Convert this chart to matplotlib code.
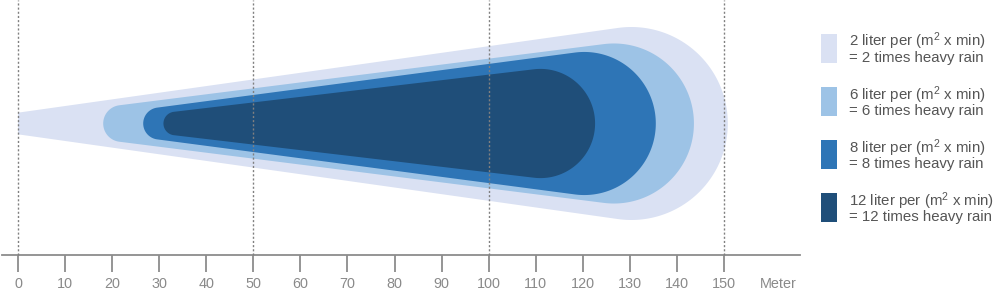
import numpy as np
import matplotlib
matplotlib.use("Agg")
import matplotlib.pyplot as plt
from matplotlib.patches import Polygon, Rectangle

plt.rcParams['font.family'] = ['Liberation Sans', 'DejaVu Sans']
plt.rcParams['mathtext.fontset'] = 'custom'
plt.rcParams['mathtext.rm'] = 'Liberation Sans'
plt.rcParams['mathtext.it'] = 'Liberation Sans'

# ---- data (meters) ----
line1 = ["2 liter per (m$^2$ x min)", "6 liter per (m$^2$ x min)",
         "8 liter per (m$^2$ x min)", "12 liter per (m$^2$ x min)"]
line2 = ["= 2 times heavy rain", "= 6 times heavy rain",
         "= 8 times heavy rain", "= 12 times heavy rain"]
colors = ["#dae1f3", "#9dc3e6", "#2e75b6", "#1f4e79"]
start_m = [0.0, 18.1, 26.6, 30.9]        # left end of the spray zone
reach_m = [150.8, 143.6, 135.5, 122.6]   # right end of the spray zone
near_halfwidth = [2.3, 3.9, 3.4, 2.5]    # half-width at the left end
far_halfwidth = [20.5, 17.0, 15.2, 11.6] # half-width at the round right end
flat_start = [True, False, False, False]
xticks = list(range(0, 151, 10))
grid_x = [0, 50, 100, 150]

# ---- figure in pixel-matched coordinates ----
W, H = 1000, 301
fig = plt.figure(figsize=(W / 100, H / 100), dpi=100)
ax = fig.add_axes([0, 0, 1, 1])
scale = 4.707          # px per meter
x0_px, yc_px = 18.0, 123.5
ax.set_xlim(-x0_px / scale, (W - x0_px) / scale)
ax.set_ylim((yc_px - H) / scale, yc_px / scale)
axis_y = (yc_px - 255) / scale


def hull(xs, r1, xe, r2, flat):
    c2 = xe - r2
    if flat:
        P = np.array([xs, r1])
        C = np.array([c2, 0.0])
        v = P - C
        D = np.hypot(*v)
        beta = np.arctan2(v[1], v[0])
        th = beta - np.arccos(r2 / D)
        a = np.linspace(-th, th, 200)
        pts = np.column_stack([c2 + r2 * np.cos(a), r2 * np.sin(a)])
        return np.vstack([[xs, -r1], pts, [xs, r1]])
    c1 = xs + r1
    phi = np.arcsin((r2 - r1) / (c2 - c1))
    a_r = np.linspace(-(np.pi / 2 + phi), np.pi / 2 + phi, 200)
    a_l = np.linspace(np.pi / 2 + phi, 3 * np.pi / 2 - phi, 100)
    right = np.column_stack([c2 + r2 * np.cos(a_r), r2 * np.sin(a_r)])
    left = np.column_stack([c1 + r1 * np.cos(a_l), r1 * np.sin(a_l)])
    return np.vstack([right, left])


for xs, xe, r1, r2, fl, col in zip(start_m, reach_m, near_halfwidth,
                                    far_halfwidth, flat_start, colors):
    ax.add_patch(Polygon(hull(xs, r1, xe, r2, fl), closed=True,
                         facecolor=col, edgecolor='none', zorder=2))

# dotted guide lines
ax.vlines(grid_x, axis_y, ax.get_ylim()[1], colors="#808080",
          linestyles=(0, (1.5, 1.5)), linewidth=1.0, zorder=3)

# x axis
for s in ['top', 'right', 'left']:
    ax.spines[s].set_visible(False)
ax.spines['bottom'].set_position(('data', axis_y))
ax.spines['bottom'].set_bounds((2 - x0_px) / scale, (800 - x0_px) / scale)
ax.spines['bottom'].set_color("#8c8c8c")
ax.spines['bottom'].set_linewidth(1.3)
ax.set_xticks(xticks)
ax.set_xticklabels([str(t) for t in xticks])
ax.tick_params(axis='x', direction='out', length=12.3, width=1.3,
               color="#8c8c8c", labelcolor="#8a8a8a", labelsize=10.4, pad=3.3)
ax.set_yticks([])
ax.text((760 - x0_px) / scale, (yc_px - 284) / scale, "Meter",
        color="#8a8a8a", fontsize=10.4, ha='left', va='center')

# legend (drawn in pixel positions)
for i, (l1, l2, col) in enumerate(zip(line1, line2, colors)):
    top = 34 + 53 * i
    fig.patches.append(Rectangle((821 / W, 1 - (top + 29) / H), 16 / W, 29 / H,
                                 transform=fig.transFigure, facecolor=col,
                                 edgecolor='none'))
    fig.text(849 / W, 1 - (top + 7.7) / H, l1, fontsize=10.8, color="#555555",
             ha='left', va='center')
    fig.text(849 / W, 1 - (top + 24.3) / H, l2, fontsize=10.8, color="#555555",
             ha='left', va='center')

fig.savefig("out.png", dpi=100)
